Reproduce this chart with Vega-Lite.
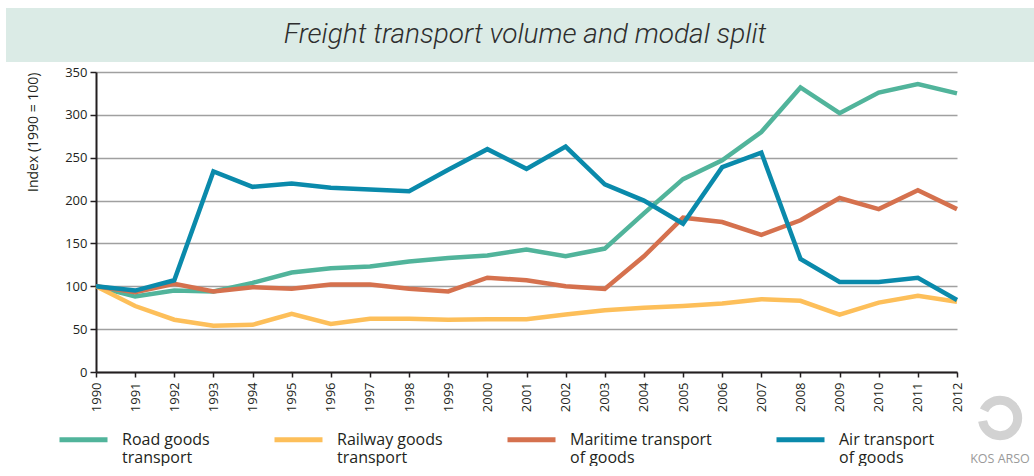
{
  "$schema": "https://vega.github.io/schema/vega-lite/v6.json",
  "padding": {"left": 6, "top": 8, "right": 0, "bottom": 0},
  "background": "white",
  "config": {"font": "Open Sans"},
  "spacing": 4,
  "columns": 1,
  "resolve": {"scale": {"color": "independent"}, "legend": {"color": "independent"}},
  "concat": [
    {
      "width": 940,
      "height": 54,
      "data": {"values": [{"title": "Freight transport volume and modal split"}]},
      "layer": [
        {
          "mark": {"type": "rect", "color": "#dbebe6", "xOffset": -90},
          "encoding": {
            "x": {"datum": 0, "type": "quantitative", "scale": {"domain": [0, 1], "nice": false, "zero": false}, "axis": null},
            "x2": {"datum": 1}
          }
        },
        {
          "mark": {"type": "text", "font": "Roboto", "fontStyle": "italic", "fontWeight": 300, "fontSize": 28, "color": "#2e2e2e", "baseline": "middle", "dx": -41},
          "encoding": {"text": {"field": "title"}}
        }
      ],
      "view": {"stroke": null}
    },
    {
      "width": 861,
      "height": 300,
      "layer": [
        {
          "data": {"values": [
            {"year": 1990, "Road goods transport": 100, "Railway goods transport": 100, "Maritime transport of goods": 100, "Air transport of goods": 100},
            {"year": 1991, "Road goods transport": 88, "Railway goods transport": 77, "Maritime transport of goods": 93, "Air transport of goods": 95},
            {"year": 1992, "Road goods transport": 95, "Railway goods transport": 61, "Maritime transport of goods": 103, "Air transport of goods": 107},
            {"year": 1993, "Road goods transport": 94, "Railway goods transport": 54, "Maritime transport of goods": 94, "Air transport of goods": 234},
            {"year": 1994, "Road goods transport": 104, "Railway goods transport": 55, "Maritime transport of goods": 99, "Air transport of goods": 216},
            {"year": 1995, "Road goods transport": 116, "Railway goods transport": 68, "Maritime transport of goods": 97, "Air transport of goods": 220},
            {"year": 1996, "Road goods transport": 121, "Railway goods transport": 56, "Maritime transport of goods": 102, "Air transport of goods": 215},
            {"year": 1997, "Road goods transport": 123, "Railway goods transport": 62, "Maritime transport of goods": 102, "Air transport of goods": 213},
            {"year": 1998, "Road goods transport": 129, "Railway goods transport": 62, "Maritime transport of goods": 97, "Air transport of goods": 211},
            {"year": 1999, "Road goods transport": 133, "Railway goods transport": 61, "Maritime transport of goods": 94, "Air transport of goods": 236},
            {"year": 2000, "Road goods transport": 136, "Railway goods transport": 61.5, "Maritime transport of goods": 110, "Air transport of goods": 260},
            {"year": 2001, "Road goods transport": 143, "Railway goods transport": 61.5, "Maritime transport of goods": 107, "Air transport of goods": 237},
            {"year": 2002, "Road goods transport": 135, "Railway goods transport": 67, "Maritime transport of goods": 100, "Air transport of goods": 263},
            {"year": 2003, "Road goods transport": 144, "Railway goods transport": 72, "Maritime transport of goods": 97, "Air transport of goods": 219},
            {"year": 2004, "Road goods transport": 185, "Railway goods transport": 75, "Maritime transport of goods": 135, "Air transport of goods": 200},
            {"year": 2005, "Road goods transport": 225, "Railway goods transport": 77, "Maritime transport of goods": 180, "Air transport of goods": 173},
            {"year": 2006, "Road goods transport": 247, "Railway goods transport": 80, "Maritime transport of goods": 175, "Air transport of goods": 239},
            {"year": 2007, "Road goods transport": 280, "Railway goods transport": 85, "Maritime transport of goods": 160, "Air transport of goods": 256},
            {"year": 2008, "Road goods transport": 332, "Railway goods transport": 83, "Maritime transport of goods": 177, "Air transport of goods": 132},
            {"year": 2009, "Road goods transport": 302, "Railway goods transport": 67, "Maritime transport of goods": 203, "Air transport of goods": 105},
            {"year": 2010, "Road goods transport": 326, "Railway goods transport": 81, "Maritime transport of goods": 190, "Air transport of goods": 105},
            {"year": 2011, "Road goods transport": 336, "Railway goods transport": 89, "Maritime transport of goods": 212, "Air transport of goods": 110},
            {"year": 2012, "Road goods transport": 325, "Railway goods transport": 82, "Maritime transport of goods": 190, "Air transport of goods": 84}
          ]},
          "transform": [
            {"fold": ["Road goods transport", "Railway goods transport", "Maritime transport of goods", "Air transport of goods"], "as": ["series", "value"]}
          ],
          "mark": {"type": "line", "strokeWidth": 4.5, "strokeJoin": "miter"},
          "encoding": {
            "x": {
              "field": "year", "type": "ordinal",
              "scale": {"type": "point", "padding": 0},
              "axis": {"title": null, "labelAngle": -90, "labelFontSize": 13, "labelColor": "#231f20", "tickColor": "#231f20", "tickSize": 5, "tickWidth": 1.5, "domainColor": "#231f20", "domainWidth": 2, "labelPadding": 5, "grid": false}
            },
            "y": {
              "field": "value", "type": "quantitative",
              "scale": {"domain": [0, 350]},
              "axis": {"title": ["", "Index  (1990 = 100)"], "titleLineHeight": 20, "titleAnchor": "end", "titleFontSize": 14, "titleFontWeight": "normal", "titleColor": "#231f20", "titlePadding": 24, "values": [0, 50, 100, 150, 200, 250, 300, 350], "labelFontSize": 13, "labelColor": "#231f20", "labelPadding": 3, "tickSize": 6, "tickColor": "#231f20", "tickWidth": 1.5, "domainColor": "#231f20", "domainWidth": 2, "gridColor": "#a0a0a0", "gridWidth": 1.3}
            },
            "color": {
              "field": "series", "type": "nominal", "sort": null,
              "scale": {"domain": ["Road goods transport", "Railway goods transport", "Maritime transport of goods", "Air transport of goods"], "range": ["#51b49b", "#fdbf5a", "#d5714e", "#0a8aab"]},
              "legend": {
                "orient": "none", "legendX": -39, "legendY": 341, "direction": "horizontal", "columns": 4, "title": null,
                "symbolType": "stroke", "symbolSize": 2304, "symbolStrokeWidth": 5,
                "labelFontSize": 16, "labelColor": "#231f20", "labelOffset": 12, "columnPadding": 54, "labelLimit": 300, "labelBaseline": "middle",
                "labelExpr": "datum.label == 'Road goods transport' ? ['Road goods', 'transport'] : datum.label == 'Railway goods transport' ? ['Railway goods', 'transport'] : datum.label == 'Maritime transport of goods' ? ['Maritime transport', 'of goods'] : ['Air transport', 'of goods']"
              }
            }
          }
        },
        {
          "data": {"values": [{"label": "KOS ARSO"}]},
          "mark": {"type": "point", "shape": "circle", "filled": false, "size": 1250, "strokeWidth": 9, "color": "#d2d2d2", "opacity": 1, "strokeDash": [52, 11], "xOffset": 43, "yOffset": 46},
          "encoding": {"x": {"datum": 2012, "type": "ordinal"}, "y": {"datum": 0, "type": "quantitative"}}
        },
        {
          "data": {"values": [{"label": "KOS ARSO"}]},
          "mark": {"type": "text", "fontSize": 12.5, "color": "#9a9a9a", "dx": 43, "dy": 87},
          "encoding": {"x": {"datum": 2012, "type": "ordinal"}, "y": {"datum": 0, "type": "quantitative"}, "text": {"field": "label"}}
        }
      ],
      "view": {"stroke": null}
    }
  ]
}
